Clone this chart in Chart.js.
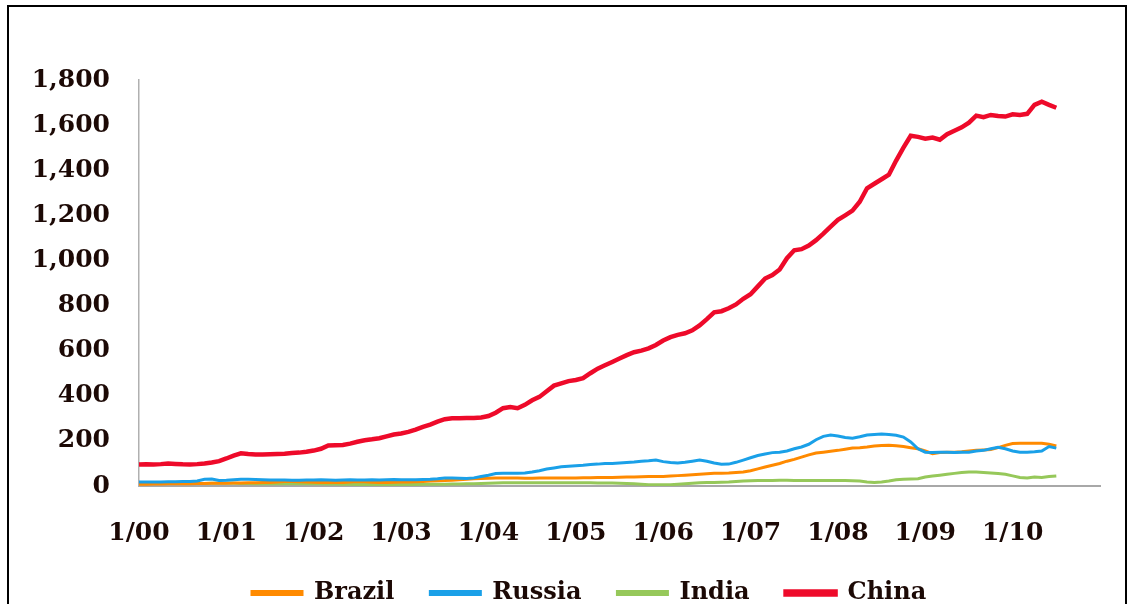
<!DOCTYPE html>
<html>
<head>
<meta charset="utf-8">
<style>
  html, body { margin: 0; padding: 0; background: #ffffff; }
  #wrap { width: 1132px; height: 604px; position: relative; }
</style>
<script src="https://cdn.jsdelivr.net/npm/chart.js@4.4.1/dist/chart.umd.min.js"></script>
</head>
<body>
<div id="wrap"><canvas id="c" width="1132" height="604"></canvas></div>
<script>
// Monthly series, Jan 2000 – Jul 2010 (one value per month)
const brazil = [
  8, 8, 9, 9, 10, 10, 10, 10, 11, 11, 12, 12,
  12, 13, 13, 14, 14, 15, 16, 18, 20, 20, 19, 18,
  17, 16, 15, 15, 16, 18, 20, 19, 17, 16, 16, 17,
  18, 18, 19, 20, 22, 23, 24, 26, 28, 30, 32, 33,
  34, 35, 36, 36, 35, 34, 34, 35, 35, 36, 36, 36,
  36, 37, 37, 38, 38, 38, 39, 40, 40, 41, 42, 42,
  42, 44, 46, 48, 50, 52, 54, 56, 57, 58, 60, 62,
  68, 76, 84, 92, 100, 110, 118, 128, 138, 146, 150, 154,
  158, 163, 168, 170, 173, 177, 180, 181, 178, 175, 170, 165,
  155, 143, 148, 150, 150, 152, 155, 158, 160, 162, 170, 180,
  188, 190, 190, 190, 190, 185, 177
];
const russia = [
  18, 18, 18, 18, 19, 19, 20, 20, 22, 30, 31, 24,
  25, 28, 30, 30, 29, 28, 27, 27, 27, 26, 26, 27,
  27, 28, 27, 26, 27, 28, 27, 27, 28, 27, 28, 29,
  28, 28, 28, 29, 30, 32, 35, 35, 34, 33, 36, 42,
  48, 55, 57, 56, 57, 58, 62, 68, 75, 80, 85, 88,
  90, 92, 95, 97, 100, 100, 102, 104, 106, 110, 112, 115,
  108, 104, 102, 105, 110, 115, 110, 102, 96, 97, 105, 115,
  125, 135, 142, 148, 150, 155, 165, 173, 185, 205, 220, 226,
  222, 215, 212, 218, 226, 228, 230, 228, 225, 217, 195, 165,
  150, 148, 150, 150, 148, 150, 150, 155, 158, 165, 172, 165,
  155, 150, 150, 152, 155, 175, 168
];
const india = [
  12, 12, 13, 13, 12, 12, 12, 11, 11, 11, 12, 12,
  12, 12, 11, 11, 10, 10, 10, 10, 10, 10, 10, 10,
  10, 10, 9, 9, 8, 8, 7, 7, 7, 7, 7, 7,
  7, 7, 7, 8, 8, 8, 8, 9, 9, 10, 10, 11,
  12, 13, 14, 14, 14, 14, 14, 14, 14, 14, 14, 14,
  14, 14, 14, 13, 13, 13, 12, 11, 10, 8, 6, 5,
  5, 6, 8, 10, 12, 14, 15, 16, 17, 18, 20, 22,
  23, 24, 24, 24, 25, 25, 24, 24, 24, 24, 24, 24,
  24, 24, 23, 22, 18, 15, 18, 22, 28, 30, 31, 32,
  40, 44, 48, 52, 56, 60, 62, 62, 60, 58, 55, 52,
  45, 38, 35, 40, 38, 42, 44
];
const china = [
  95, 96, 95, 97, 100, 98, 96, 95, 97, 100, 104, 110,
  122, 135, 145, 142, 140, 140, 141, 142, 143, 146, 148, 152,
  157, 165, 180, 181, 182, 188, 196, 203, 207, 212, 220, 228,
  233, 240, 250, 262, 272, 285, 296, 300, 300, 301, 302, 304,
  310, 325, 345, 350, 345, 360, 380, 395, 420, 445, 455, 465,
  470, 478, 500, 520, 535, 550, 565, 580, 593, 600, 610, 625,
  645, 660, 670, 677, 690, 712, 740, 770, 775, 788, 805, 830,
  850, 885, 920, 935, 960, 1010, 1045, 1050, 1066, 1090, 1119, 1150,
  1180, 1200, 1221, 1260, 1320, 1340, 1360, 1380, 1443, 1500, 1553, 1548,
  1540, 1545, 1535, 1560, 1575, 1590, 1611, 1642, 1635, 1645, 1640, 1638,
  1648, 1645, 1650, 1690, 1704, 1690, 1677
];

const seriesNames = ['Brazil', 'Russia', 'India', 'China'];
const seriesColors = ['#ff8a00', '#1aa0e8', '#96c85a', '#ee0a2a'];
const yTicks = [0, 200, 400, 600, 800, 1000, 1200, 1400, 1600, 1800];

// Month axis: Jan 2000 through Jan 2011, labelled every January as "1/yy"
// (the closing Jan 2011 slot only pads the axis and carries no label)
const firstYear = 2000, monthCount = 133;
const months = [];
for (let i = 0; i < monthCount; i++) {
  const m = (i % 12) + 1;
  const yy = String((firstYear + Math.floor(i / 12)) % 100).padStart(2, '0');
  months.push(m + '/' + yy);
}

const textColor = '#1c0905';
const axisFont = { family: '"DejaVu Serif", "Liberation Serif", serif', size: 25, weight: 'bold' };
const legendFont = { family: '"DejaVu Serif", "Liberation Serif", serif', size: 24, weight: 'bold' };

const PLOT = { left: 139, right: 1105, top: 80, bottom: 486 };
const LEGEND_CENTER_Y = 593;
const LEGEND_START_X = 252;
const LEGEND_H = 40;

// Outer black frame around the figure
const framePlugin = {
  id: 'frame',
  beforeDraw(chart) {
    const ctx = chart.ctx;
    ctx.save();
    ctx.strokeStyle = '#000000';
    ctx.lineWidth = 2;
    ctx.strokeRect(8, 6, 1118, 700);
    ctx.restore();
  }
};

// Place the legend row under the axis labels, starting at a fixed x,
// and give its box enough room so the row is not clipped
const legendPlace = {
  id: 'legendPlace',
  afterLayout(chart) {
    const lg = chart.legend;
    if (!lg || !lg.lineWidths) return;
    const pad = lg.options.labels.padding;
    const curStart = (lg.left + pad + lg.right - lg.lineWidths[0]) / 2;
    const dx = LEGEND_START_X - curStart;
    lg.left += dx; lg.right += dx;
    const fs = lg.options.labels.font.size;
    lg.top = LEGEND_CENTER_Y - pad - fs / 2;
    lg.bottom = lg.top + pad + fs + 30;
    lg.height = lg.bottom - lg.top;
  }
};

const datasets = [brazil, russia, india, china].map((d, i) => ({
  label: seriesNames[i],
  data: d,
  borderColor: seriesColors[i],
  backgroundColor: seriesColors[i],
  borderWidth: i === 3 ? 4.5 : 3,
  pointRadius: 0,
  tension: 0,
  order: [2, 1, 3, 0][i]
}));

new Chart(document.getElementById('c'), {
  type: 'line',
  data: { labels: months, datasets },
  plugins: [framePlugin, legendPlace],
  options: {
    responsive: false,
    animation: false,
    layout: { padding: { left: 0, top: PLOT.top, right: 1132 - PLOT.right, bottom: 0 } },
    plugins: {
      tooltip: { enabled: false },
      legend: {
        position: 'bottom',
        maxHeight: LEGEND_H,
        labels: {
          boxWidth: 50,
          boxHeight: 3,
          padding: 36,
          color: textColor,
          font: legendFont,
          sort: (a, b) => a.datasetIndex - b.datasetIndex
        }
      }
    },
    scales: {
      x: {
        type: 'category',
        offset: false,
        grid: { display: false, drawTicks: false },
        border: { display: true, color: '#a8a8a8', width: 2 },
        ticks: {
          autoSkip: false,
          maxRotation: 0,
          minRotation: 0,
          padding: 32,
          color: textColor,
          font: axisFont,
          callback: function (v, i) { return (i % 12 === 0 && i < monthCount - 1) ? months[i] : ''; }
        },
        afterFit: (s) => {
          const lh = s.chart.legend ? s.chart.legend.height : 0;
          s.height = 604 - PLOT.bottom - lh;
        }
      },
      y: {
        min: 0,
        max: 1800,
        afterBuildTicks: (s) => { s.ticks = yTicks.map(v => ({ value: v })); },
        grid: { display: false, drawTicks: false },
        border: { display: true, color: '#b0b0b0', width: 1.5 },
        ticks: {
          padding: 29,
          color: textColor,
          font: axisFont,
          callback: (v) => Number(v).toLocaleString('en-US')
        },
        afterFit: (s) => { s.width = PLOT.left; }
      }
    }
  }
});
</script>
</body>
</html>
